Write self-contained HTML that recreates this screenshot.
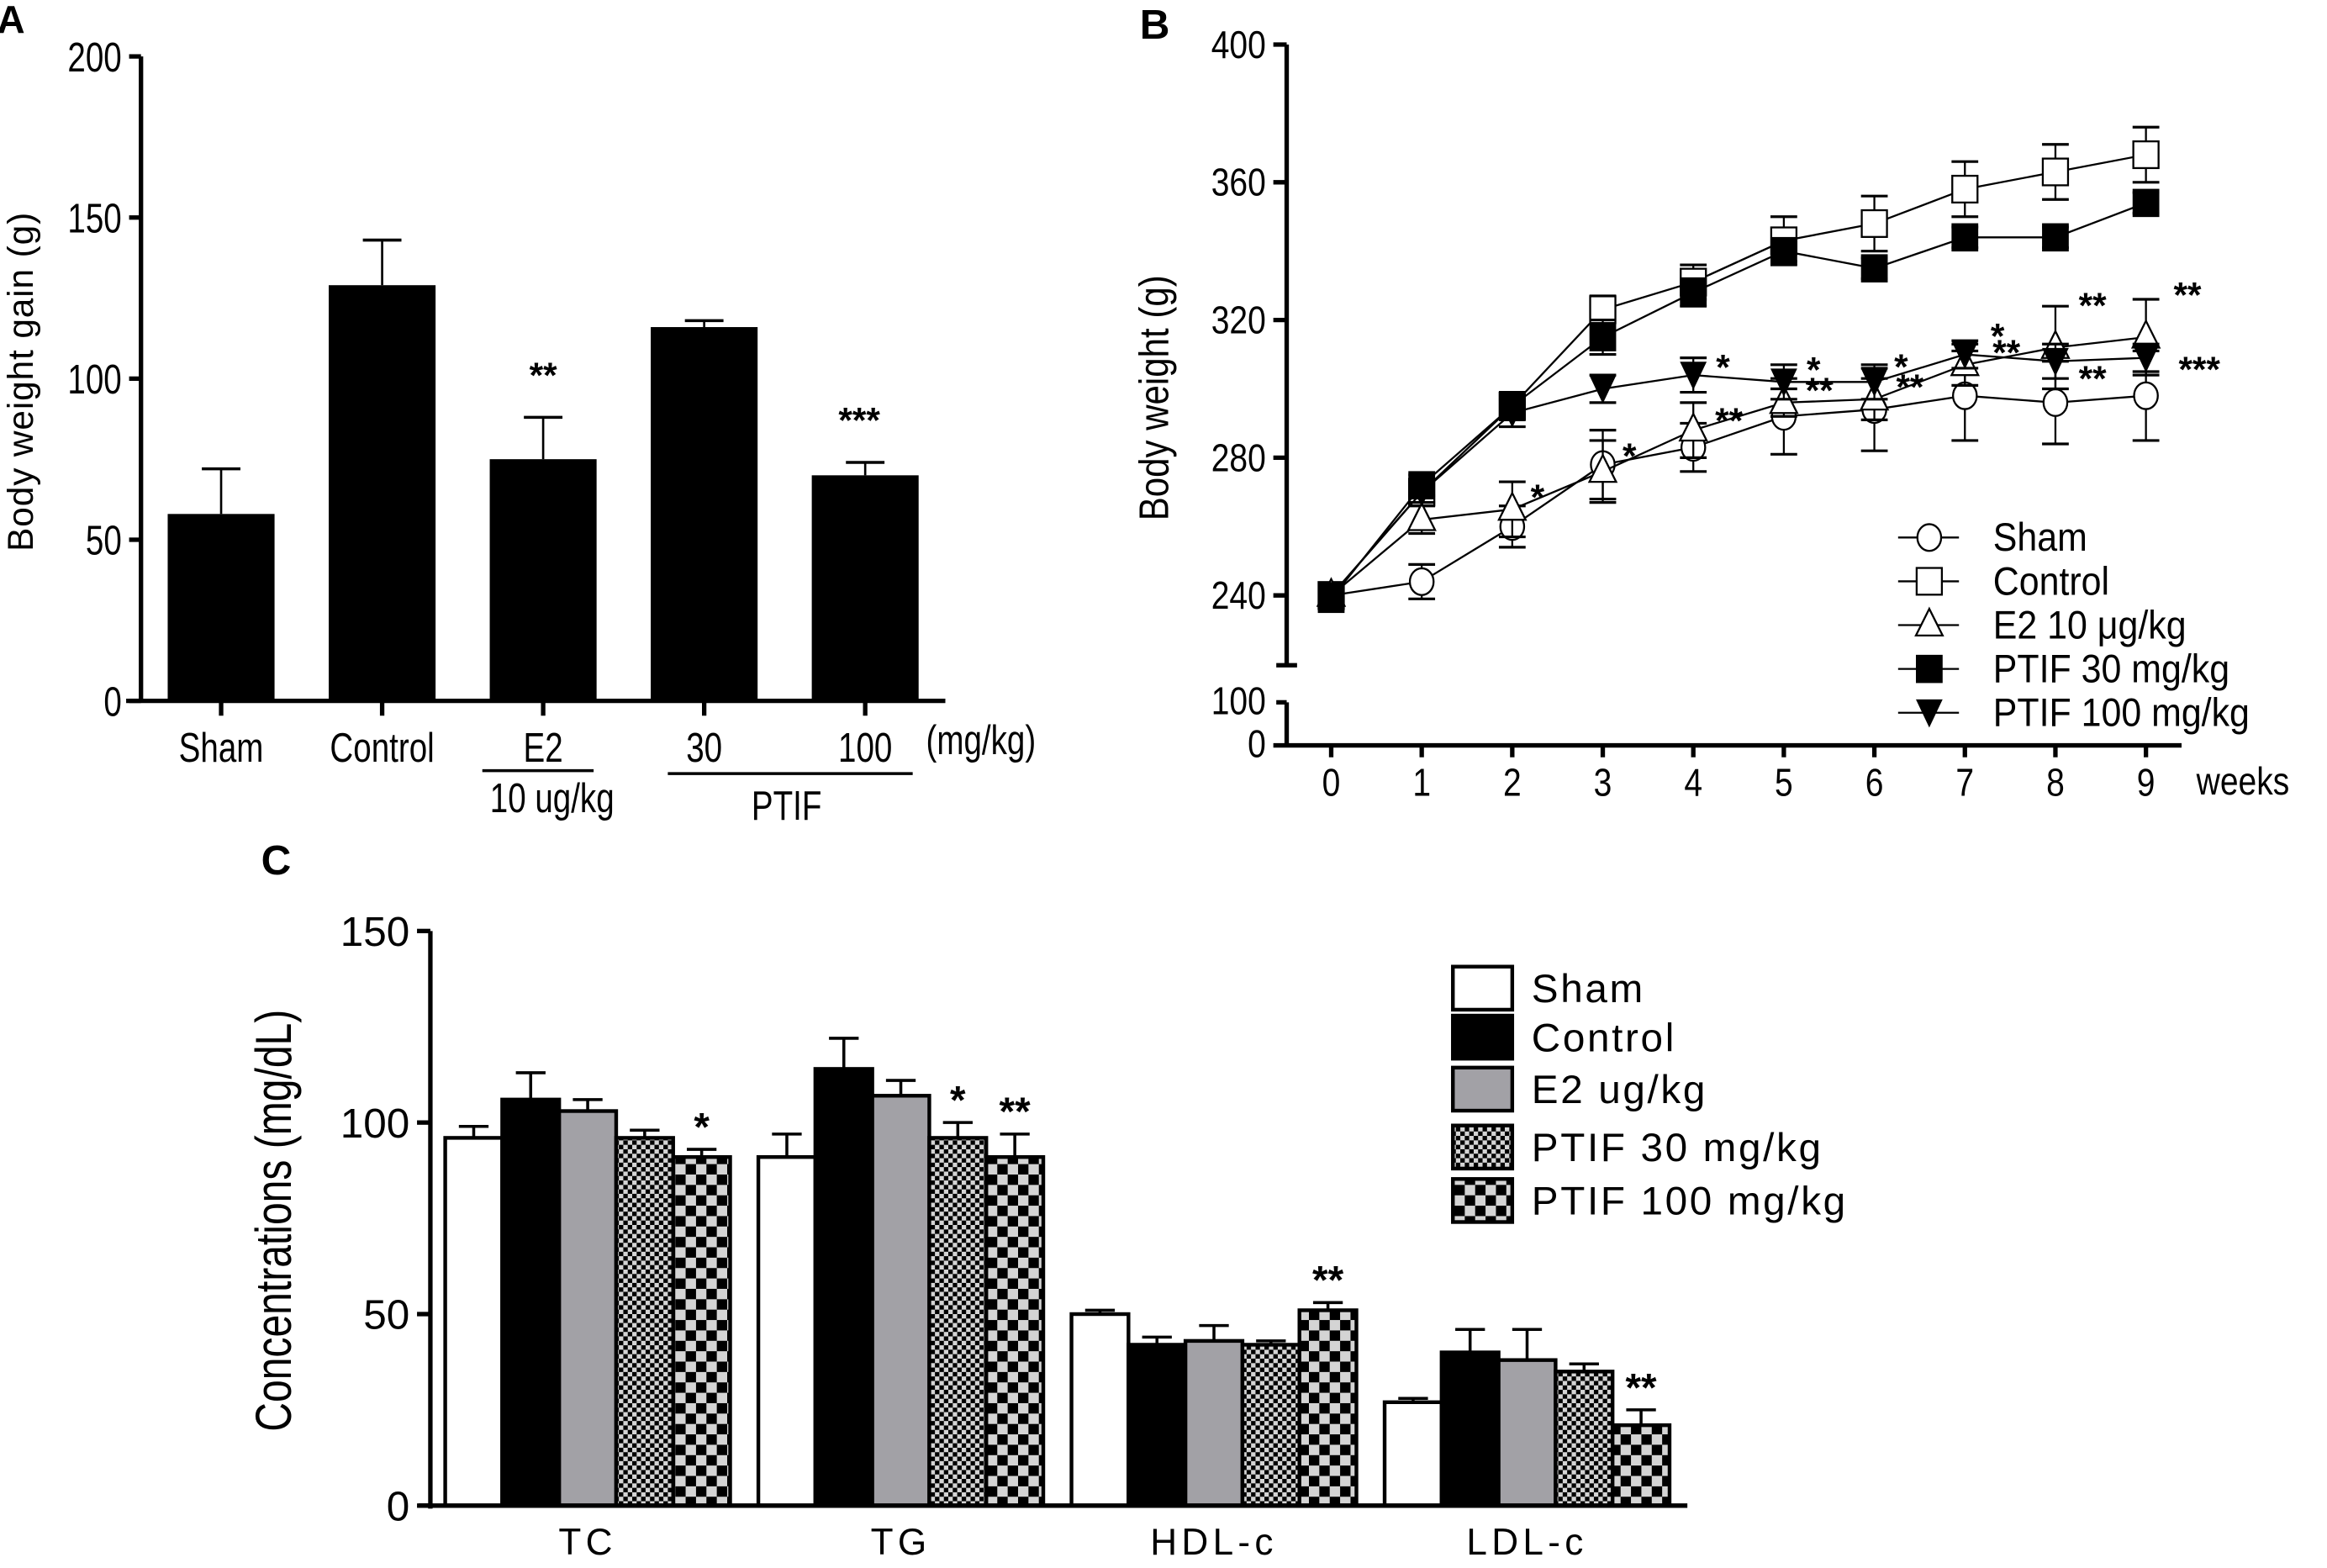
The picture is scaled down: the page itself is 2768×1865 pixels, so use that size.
<!DOCTYPE html>
<html><head><meta charset="utf-8"><style>
html,body{margin:0;padding:0;background:#fff;}
svg{display:block;}
text{font-family:"Liberation Sans",Arial,sans-serif;fill:#000;}
</style></head><body>
<svg id="fig" width="2768" height="1865" viewBox="0 0 1568 1056" preserveAspectRatio="none" xmlns="http://www.w3.org/2000/svg">
<defs>
<pattern id="p30" patternUnits="userSpaceOnUse" width="6" height="6"><rect width="6" height="6" fill="#d4d4d4"/><rect width="3" height="3" fill="#000"/><rect x="3" y="3" width="3" height="3" fill="#000"/></pattern>
<pattern id="p100" patternUnits="userSpaceOnUse" width="14" height="14"><rect width="14" height="14" fill="#d4d4d4"/><rect width="7" height="7" fill="#000"/><rect x="7" y="7" width="7" height="7" fill="#000"/></pattern>
</defs>
<g id="A"></g>
<g id="B"></g>
<g id="C"></g>
</svg>
<script>
// Panel A data
const aCats=["Sham","Control","E2","30","100"];
const aVals=[58,129,75,116,70];
const aErr=[14,14,13,2,4];
const aTicks=[0,50,100,150,200];
const aStars=["","","**","","***"];
// Panel B data
const bWeeks=[0,1,2,3,4,5,6,7,8,9];
const bSham=[240,244,260,278,283,292,294,298,296,298];
const bShamE=[3,5,6,10,7,11,12,13,12,13];
const bCtrl=[240,270,295,323,331,343,348,358,363,368];
const bCtrlE=[3,3,4,4,5,7,8,8,8,8];
const bE2=[240,262,265,276,288,296,297,307,312,315];
const bE2E=[3,4,8,9,8,4,6,6,12,11];
const bP30=[239,272,295,315,328,340,335,344,344,354];
const bP30E=[3,3,3,5,4,3,3,3,3,3];
const bP100=[240,270,293,300,304,302,302,310,308,309];
const bP100E=[2,3,4,4,5,5,5,4,5,4];
const bTicks=[240,280,320,360,400];
const bLegend=["Sham","Control","E2 10 μg/kg","PTIF 30 mg/kg","PTIF 100 mg/kg"];
// Panel C data
const cCats=["TC","TG","HDL-c","LDL-c"];
const cSham=[96,91,50,27];
const cCtrl=[106,114,42,40];
const cE2=[103,107,43,38];
const cP30=[96,96,42,35];
const cP100=[91,91,51,21];
const cShamE=[3,6,1,1];
const cCtrlE=[7,8,2,6];
const cE2E=[3,4,4,8];
const cP30E=[2,4,1,2];
const cP100E=[2,6,2,4];
const cStars30=["","*","",""];
const cStars100=["*","**","**","**"];
const cTicks=[0,50,100,150];
const cLegend=["Sham","Control","E2 ug/kg","PTIF 30 mg/kg","PTIF 100 mg/kg"];

const NS="http://www.w3.org/2000/svg";
function mk(parent,tag,attrs,txt){const e=document.createElementNS(NS,tag);for(const k in attrs)e.setAttribute(k,attrs[k]);if(txt!==undefined)e.textContent=txt;parent.appendChild(e);return e;}
function line(g,x1,y1,x2,y2,w){return mk(g,'line',{x1,y1,x2,y2,stroke:'#000','stroke-width':w||1.5});}
// narrow text via horizontal scale
function ntext(g,x,y,size,anchor,txt,sx,rot){
 const tr=rot?`translate(${x},${y}) rotate(-90) scale(${sx},1)`:`translate(${x},${y}) scale(${sx},1)`;
 return mk(g,'text',{x:0,y:0,'font-size':size,'text-anchor':anchor,transform:tr},txt);
}

// ---------- Panel A ----------
(function(){
const g=document.getElementById('A');
const y=v=>472-(v/200)*434;
const xc=i=>149+i*108.5;
let t=mk(g,'text',{x:-2,y:22,'font-size':26,'font-weight':'bold'},'A');


let ax=line(g,95,38,95,472,3);


ax=line(g,85,472,637,472,3);


aTicks.forEach(v=>{line(g,87,y(v),95,y(v),3);
 const l=ntext(g,82,y(v)+10,28,'end',v,0.78);
 
 });
const tt=mk(g,'text',{x:0,y:0,'font-size':24,'text-anchor':'middle',transform:'translate(22,257) rotate(-90)','letter-spacing':'0.5'},'Body weight gain (g)');


aVals.forEach((v,i)=>{
 const r=mk(g,'rect',{x:xc(i)-36,y:y(v),width:72,height:472-y(v),fill:'#000'});
 
 
 line(g,xc(i),y(v),xc(i),y(v+aErr[i]),1.5);line(g,xc(i)-13,y(v+aErr[i]),xc(i)+13,y(v+aErr[i]),2);
 line(g,xc(i),472,xc(i),482,3);
 const l=ntext(g,xc(i),513,28,'middle',aCats[i],0.78);
 
 
 if(aStars[i]){const s=mk(g,'text',{x:xc(i)+(i==2?0:-4),y:y(v+aErr[i])-20,'font-size':24,'font-weight':'bold','text-anchor':'middle'},aStars[i]);
 
 }
});
let u=ntext(g,624,508,28,'start','(mg/kg)',0.78);

line(g,325,519,400,519,2);line(g,450,521,615,521,2);
u=ntext(g,372,547,28,'middle','10 ug/kg',0.78);

u=ntext(g,530,552,28,'middle','PTIF',0.78);

})();

// ---------- Panel B ----------
(function(){
const g=document.getElementById('B');
const y=v=>401-(v-240)/40*92.75;
const x=w=>897+w*61;
let t=mk(g,'text',{x:768,y:26,'font-size':28,'font-weight':'bold'},'B');

let a=line(g,867,30,867,448,3);
line(g,860,448,874,448,3);
line(g,867,473,867,502,3);line(g,860,473,867,473,3);
a=line(g,858,502,1470,502,3);
bTicks.forEach(v=>{line(g,858,y(v),867,y(v),3);
 const l=ntext(g,853,y(v)+9,26,'end',v,0.85);
 });
[["100",473],["0",502]].forEach(p=>{const l=ntext(g,853,p[1]+8,26,'end',p[0],0.85);
 });
bWeeks.forEach(w=>{line(g,x(w),502,x(w),510,3);
 const l=ntext(g,x(w),536,26,'middle',w,0.85);
 });
let l=ntext(g,1480,535,26,'start','weeks',0.85);

l=ntext(g,787,268,28,'middle','Body weight (g)',0.85,true);

function marker(gg,type,cx,cy){
 if(type==0)return mk(gg,'ellipse',{cx,cy,rx:8,ry:9,fill:'#fff',stroke:'#000','stroke-width':1.3});
 if(type==1)return mk(gg,'rect',{x:cx-8.5,y:cy-9,width:17,height:18,fill:'#fff',stroke:'#000','stroke-width':1.3});
 if(type==2)return mk(gg,'polygon',{points:`${cx},${cy-11} ${cx-9},${cy+7} ${cx+9},${cy+7}`,fill:'#fff',stroke:'#000','stroke-width':1.3});
 if(type==3)return mk(gg,'rect',{x:cx-9,y:cy-9.5,width:18,height:19,fill:'#000'});
 return mk(gg,'polygon',{points:`${cx-9},${cy-9} ${cx+9},${cy-9} ${cx},${cy+10}`,fill:'#000'});
}
const series=[[bSham,bShamE],[bCtrl,bCtrlE],[bE2,bE2E],[bP30,bP30E],[bP100,bP100E]];
const names=['sham','control','e2','ptif-30','ptif-100'];
series.forEach((s,k)=>{
 const sg=mk(g,'g',{});
 
 const pts=s[0].map((v,i)=>x(bWeeks[i])+','+y(v)).join(' ');
 const pl=mk(sg,'polyline',{points:pts,fill:'none',stroke:'#000','stroke-width':1.3});
 
 s[0].forEach((v,i)=>{const cx=x(bWeeks[i]);
  line(sg,cx,y(v-s[1][i]),cx,y(v+s[1][i]),1.3);
  line(sg,cx-9,y(v-s[1][i]),cx+9,y(v-s[1][i]),1.8);line(sg,cx-9,y(v+s[1][i]),cx+9,y(v+s[1][i]),1.8);});
 s[0].forEach((v,i)=>{const m=marker(sg,k,x(bWeeks[i]),y(v));
  });
});
const starsB=[[bE2,2,'*',17,-10],[bE2,3,'*',18,-12],[bE2,4,'**',24,-8],[bE2,5,'**',24,-10],[bE2,6,'**',24,-10],[bE2,7,'**',28,-10],[bE2,8,'**',25,-30],[bE2,9,'**',28,-30],
 [bP100,4,'*',20,-7],[bP100,5,'*',20,-10],[bP100,6,'*',18,-12],[bP100,7,'*',22,-14],[bP100,8,'**',25,10],[bP100,9,'***',36,6]];
starsB.forEach(s=>{const tx=mk(g,'text',{x:x(s[1])+s[3],y:y(s[0][s[1]])+s[4]+10,'font-size':24,'font-weight':'bold','text-anchor':'middle'},s[2]);
 });
bLegend.forEach((n,i)=>{const ly=362+i*29.5;
 const lg=mk(g,'g',{});
 line(lg,1279,ly,1320,ly,1.3);marker(lg,i,1300,ly);
 const tx=ntext(lg,1343,ly+9,27,'start',n,0.9);});
})();

// ---------- Panel C ----------
(function(){
const g=document.getElementById('C');
const y=v=>1014-v/150*387;
const gx=c=>300+c*211;
const bw=38.4;
let t=mk(g,'text',{x:176,y:589,'font-size':28,'font-weight':'bold'},'C');

const fills=['#fff','#000','#a2a1a6','url(#p30)','url(#p100)'];
const vals=[cSham,cCtrl,cE2,cP30,cP100],errs=[cShamE,cCtrlE,cE2E,cP30E,cP100E];
const names=['sham','control','e2','ptif-30','ptif-100'];
cCats.forEach((c,ci)=>{
 vals.forEach((arr,k)=>{const v=arr[ci],bx=gx(ci)+k*bw;
  const r=mk(g,'rect',{x:bx,y:y(v),width:bw,height:1014-y(v),fill:fills[k],stroke:'#000','stroke-width':2.5});
  
  const e=errs[k][ci],cx=bx+bw/2;
  line(g,cx,y(v),cx,y(v+e),2);line(g,cx-10,y(v+e),cx+10,y(v+e),2);
 });
 const l=mk(g,'text',{x:gx(ci)+bw*2.5,y:1047,'font-size':25,'text-anchor':'middle','letter-spacing':'3'},c);
 
 if(cStars30[ci]){const s=mk(g,'text',{x:gx(ci)+bw*3.5,y:y(cP30[ci]+cP30E[ci])-6,'font-size':27,'font-weight':'bold','text-anchor':'middle'},cStars30[ci]);
  }
 if(cStars100[ci]){const s=mk(g,'text',{x:gx(ci)+bw*4.5,y:y(cP100[ci]+cP100E[ci])-6,'font-size':27,'font-weight':'bold','text-anchor':'middle'},cStars100[ci]);
  }
});
let a=line(g,290,627,290,1016,3);
a=line(g,282,1014,1137,1014,3);
cTicks.forEach(v=>{line(g,281,y(v),290,y(v),3);
 const l=mk(g,'text',{x:276,y:y(v)+10,'font-size':28,'text-anchor':'end'},v);
 });
let l=ntext(g,196,822,34,'middle','Concentrations (mg/dL)',0.8,true);

const lys=[665,698,733,772,808];
cLegend.forEach((n,i)=>{const lg=mk(g,'g',{});
 
 mk(lg,'rect',{x:979,y:lys[i]-14,width:40,height:29,fill:fills[i],stroke:'#000','stroke-width':2.5});
 mk(lg,'text',{x:1032,y:lys[i]+10,'font-size':27,'letter-spacing':'1.5'},n);});
})();
</script>
</body></html>
